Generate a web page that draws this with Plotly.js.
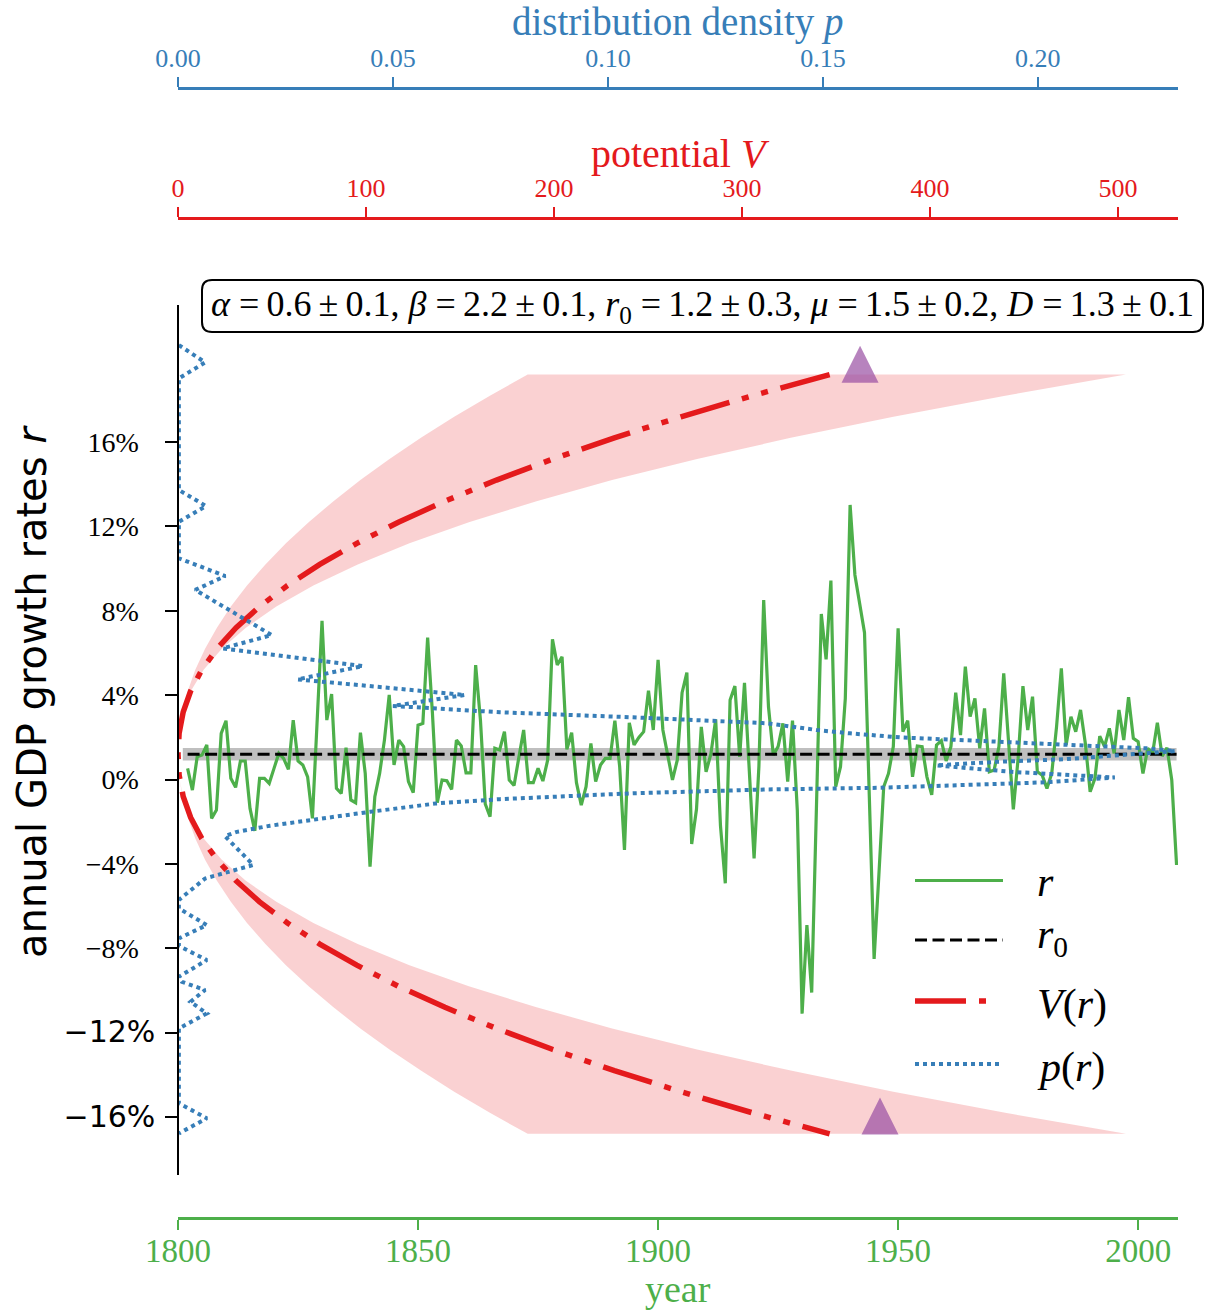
<!DOCTYPE html>
<html><head><meta charset="utf-8">
<script src="https://cdn.plot.ly/plotly-3.0.1.min.js"></script>
<style>html,body{margin:0;padding:0;background:#fff}</style>
</head><body><div id="chart" style="width:1205px;height:1313px"></div>
<script>
// ---------------- data ----------------
const firstYear = 1802;
const growth = [
  0.53, -0.50, 1.08, 1.16, 1.64, -1.84, -1.45, 2.19,
  2.79, 0.06, -0.37, 0.88, 0.88, -1.37, -2.43, 0.06, 0.06, -0.18,
  0.53, 1.24, 1.00, 0.48, 2.82, 0.88, 0.69, 0.13, -1.84, 3.00,
  7.53, 2.82, 4.05, -0.42, -0.66, 1.51, -0.97, -1.10, 2.22, 0.29,
  -4.13, -0.81, 0.29, 1.87, 4.01, 0.69, 1.87, 1.56, -0.10, -0.62,
  2.58, 2.66, 6.73, 3.14, -1.10, -0.02, -0.06, -0.47, 1.87, 1.59,
  0.32, 0.32, 5.43, 2.82, -1.16, -1.76, 1.48, 1.40, 2.27, -0.02,
  -0.28, 1.05, 2.35, -0.15, -0.15, 0.53, -0.07, 0.92, 6.65, 5.43,
  5.82, 1.43, 2.22, -0.15, -1.21, -0.34, 1.71, -0.10, 0.69, 1.00,
  1.00, 2.79, 0.61, -3.34, 2.69, 1.64, 2.00, 2.27, 4.21, 2.35,
  5.67, 2.35, 1.08, -0.02, 0.92, 4.12, 5.07, -3.06, -1.41, 2.50,
  0.37, 1.21, 2.85, -2.20, -4.92, 3.77, 4.43, 1.08, 4.59, 0.69,
  -3.74, 0.61, 8.51, 3.45, 1.16, 1.56, 2.66, -0.10, 2.79, -1.45,
  -11.10, -6.90, -10.10, -1.20, 7.85, 5.70, 9.43, -0.34, 0.61, 3.85,
  13.02, 9.70, 8.35, 6.96, -0.80, -8.51, -4.50, -0.34, 0.29, 1.56,
  7.17, 2.27, 2.79, 0.13, 1.59, 1.56, 0.13, -0.73, 1.64, 1.84,
  0.88, 1.56, 4.12, 2.11, 5.35, 2.98, 3.85, 1.48, 3.37, 0.37,
  0.45, 1.56, 5.03, 1.80, -1.41, 1.00, 4.43, 2.35, 3.93, 0.37,
  0.21, -0.42, 0.29, 2.50, 5.27, 1.64, 2.98, 2.27, 3.30, 1.71,
  -0.58, 0.06, 2.06, 1.56, 2.43, 1.24, 3.30, 1.87, 3.90, 1.95,
  1.79, 0.29, 1.48, 1.24, 2.69, 1.11, 1.51, -0.02, -4.05
];
const years = growth.map((_, i) => firstYear + i);

const r0 = 1.2, r0Err = 0.3;
const bandYears = [1801, 2008];

// potential V(r) and its uncertainty band
const rCurve = [-16.8, -15.8, -14.8, -13.8, -12.8, -11.8, -10.8, -9.8, -8.8, -7.8, -6.8, -5.8, -4.8, -3.8, -2.8, -1.8, -0.8, 0.2,
  1.2, 2.2, 3.2, 4.2, 5.2, 6.2, 7.2, 8.2, 9.2, 10.2, 11.2, 12.2, 13.2, 14.2, 15.2, 16.2, 17.2, 18.2, 19.2];
const potential = [346.6, 305.5, 267.5, 232.1, 199.4, 169.4, 142.0, 117.2, 95.1, 75.4, 58.2, 43.39, 30.91, 20.69, 12.67, 6.73, 2.76, 0.6,
  0, 0.6, 2.76, 6.73, 12.67, 20.69, 30.91, 43.39, 58.2, 75.4, 95.1, 117.2, 142.0, 169.4, 199.4, 232.1, 267.5, 305.5, 346.6];
const potLow = [186.0, 165.9, 146.9, 129.2, 112.5, 97.0, 82.7, 69.5, 57.4, 46.5, 36.7, 28.1, 20.7, 14.4, 9.2, 5.2, 2.3, 0.57,
  0, 0.57, 2.3, 5.2, 9.2, 14.4, 20.7, 28.1, 36.7, 46.5, 57.4, 69.5, 82.7, 97.0, 112.5, 129.2, 146.9, 165.9, 186.0];
const potHigh = [504.2, 440.0, 380.5, 325.9, 276.1, 230.9, 190.7, 154.7, 123.1, 95.6, 72.0, 52.3, 36.1, 23.3, 13.65, 6.85, 2.59, 0.49,
  0, 0.49, 2.59, 6.85, 13.65, 23.3, 36.1, 52.3, 72.0, 95.6, 123.1, 154.7, 190.7, 230.9, 276.1, 325.9, 380.5, 440.0, 504.2];
const markerV = [362.8, 373.4];
const markerR = [19.69, -15.95];

// distribution density p(r)
const densR = [20.60, 19.78, 19.02, 13.73, 12.97, 12.22, 10.49, 9.65, 8.99, 6.85, 6.22, 5.38, 4.75, 4.01, 3.49, 3.19, 2.95, 2.67,
  2.35, 2.19, 2.00, 1.87, 1.68, 1.48, 1.35, 0.96, 0.84, 0.67, 0.36, 0.10, -0.13, -0.39, -0.47, -0.65, -0.93, -1.13, -1.53, -1.84,
  -2.19, -2.48, -2.68, -4.05, -4.69, -5.71, -6.11, -6.90, -7.53, -7.89, -8.56, -9.35, -9.59, -9.98, -10.54, -11.09, -11.80,
  -15.35, -16.06, -16.78];
const densP = [0.0002, 0.0063, 0.0002, 0.0002, 0.0065, 0.0002, 0.0002, 0.0110, 0.0040, 0.0218, 0.0104, 0.0430, 0.0278, 0.0667,
  0.0500, 0.0749, 0.1058, 0.1369, 0.1485, 0.1563, 0.1679, 0.1826, 0.2058, 0.2253, 0.2319, 0.2059, 0.1904, 0.1764, 0.1943, 0.2179,
  0.2020, 0.1633, 0.1369, 0.1059, 0.0749, 0.0602, 0.0447, 0.0330, 0.0214, 0.0137, 0.0109, 0.0175, 0.0063, 0.0002, 0.0002, 0.0067,
  0.0002, 0.0002, 0.0067, 0.0002, 0.0009, 0.0063, 0.0029, 0.0067, 0.0002, 0.0002, 0.0067, 0.0002];

// ticks
const yTickVals = [-16, -12, -8, -4, 0, 4, 8, 12, 16];
const yTickLabels = ['\u221216%', '\u221212%', '\u22128%', '\u22124%', '0%', '4%', '8%', '12%', '16%'];
const yearTicks = [1800, 1850, 1900, 1950, 2000];
const vTicks = [0, 100, 200, 300, 400, 500];
const pTicks = [0, 0.05, 0.10, 0.15, 0.20];

// ---------------- presentation ----------------
const GREEN = '#4daf4a', RED = '#e41a1c', BLUE = '#377eb8', PURPLE = '#984ea3';
const SERIF = 'Liberation Serif, DejaVu Serif, serif';
const SANS = 'DejaVu Sans, sans-serif';
const W = 1205, H = 1313, ML = 178, MR = 27, MT = 88, MB = 95;
const PW = W - ML - MR, PH = H - MT - MB;
const fx = px => (px - ML) / PW;
const fy = py => (H - MB - py) / PH;
const sansLabels = new Set(['\u221216%', '\u221212%']);
const yTickText = yTickLabels.map(t => sansLabels.has(t)
  ? '<span style="font-family:DejaVu Sans;font-size:30px">' + t + '</span>'
  : t + '<span style="font-size:22px">\u00a0\u00a0\u00a0</span>');

const rev = a => a.slice().reverse();

const traces = [
  { x: [bandYears[0], bandYears[1], bandYears[1], bandYears[0]], y: [r0 - r0Err, r0 - r0Err, r0 + r0Err, r0 + r0Err],
    xaxis: 'x', yaxis: 'y', mode: 'lines', fill: 'toself', fillcolor: 'rgba(128,128,128,0.5)', line: { width: 0 }, hoverinfo: 'skip' },
  { x: years, y: growth, xaxis: 'x', yaxis: 'y', mode: 'lines', line: { color: GREEN, width: 3.2 } },
  { x: [years[0], years[years.length - 1]], y: [r0, r0], xaxis: 'x', yaxis: 'y', mode: 'lines',
    line: { color: '#000', width: 3.2, dash: '12px,5.5px' } },
  { x: potLow.concat(rev(potHigh)), y: rCurve.concat(rev(rCurve)), xaxis: 'x2', yaxis: 'y', mode: 'lines', fill: 'toself',
    fillcolor: 'rgba(228,26,28,0.2)', line: { width: 0 }, hoverinfo: 'skip' },
  { x: rev(potential), y: rev(rCurve), xaxis: 'x2', yaxis: 'y', mode: 'lines',
    line: { color: RED, width: 5.5, dash: '51px,13px,7px,13px,7px,13px' } },
  { x: markerV, y: markerR, xaxis: 'x2', yaxis: 'y', mode: 'markers',
    marker: { symbol: 'arrow-down', angle: 180, standoff: 18.5, size: 37, color: PURPLE, opacity: 0.7, line: { width: 0 } } },
  { x: densP, y: densR, xaxis: 'x3', yaxis: 'y', mode: 'lines', line: { color: BLUE, width: 4, dash: '4px,4px' } }
];

const axisCommon = { showgrid: false, zeroline: false, showline: true, ticks: 'outside', tickwidth: 2, ticklen: 10, fixedrange: true };

const ann = (px, py, text, size, color, extra) => Object.assign({ xref: 'paper', yref: 'paper', x: fx(px), y: fy(py), text: text,
  showarrow: false, xanchor: 'center', yanchor: 'middle', font: { family: SERIF, size: size, color: color } }, extra || {});

const annotations = [
  ann(678, 22, 'distribution density <i>p</i>', 39, BLUE),
  ann(680, 154, 'potential <i>V</i>', 40, RED),
  ann(678, 1289, 'year', 38, GREEN),
  Object.assign(ann(32, 692, 'annual GDP growth rates <i>r</i>', 40, '#000', { textangle: -90 }), { font: { family: SANS, size: 40, color: '#000' } }),
  ann(702, 306, '<i>\u03b1</i> =\u20090.6\u2009\u00b1\u20090.1, <i>\u03b2</i> =\u20092.2\u2009\u00b1\u20090.1, <i>r</i><sub>0</sub> =\u20091.2\u2009\u00b1\u20090.3, <i>\u03bc</i> =\u20091.5\u2009\u00b1\u20090.2, <i>D</i> =\u20091.3\u2009\u00b1\u20090.1', 36, '#000'),
  ann(1035, 882, '<i>r</i>', 42, '#000', { xanchor: 'left' }),
  ann(1035, 937, '<i>r</i><sub>0</sub>', 42, '#000', { xanchor: 'left' }),
  ann(1035, 1004, '<i>V</i>(<i>r</i>)', 42, '#000', { xanchor: 'left' }),
  ann(1035, 1067, '<i>p</i>(<i>r</i>)', 42, '#000', { xanchor: 'left' })
];

// rounded parameter box
const bx0 = fx(202), bx1 = fx(1203), by0 = fy(332), by1 = fy(280), rx = 10 / PW, ry = 10 / PH;
const boxPath = `M${bx0 + rx},${by1} L${bx1 - rx},${by1} Q${bx1},${by1} ${bx1},${by1 - ry} L${bx1},${by0 + ry} Q${bx1},${by0} ${bx1 - rx},${by0} ` +
  `L${bx0 + rx},${by0} Q${bx0},${by0} ${bx0},${by0 + ry} L${bx0},${by1 - ry} Q${bx0},${by1} ${bx0 + rx},${by1} Z`;

const legLine = (py, x1, color, width, dash) => ({ type: 'line', xref: 'paper', yref: 'paper', x0: fx(915), x1: fx(x1), y0: fy(py), y1: fy(py),
  line: { color: color, width: width, dash: dash } });

const shapes = [
  { type: 'path', xref: 'paper', yref: 'paper', path: boxPath, line: { color: '#000', width: 2 }, fillcolor: 'rgba(255,255,255,0.8)' },
  legLine(880.5, 1003, GREEN, 3.2, 'solid'),
  legLine(940, 1003, '#000', 3.2, '12px,5.5px'),
  legLine(1001, 995, RED, 5.5, '51px,13px,7px,13px,7px,13px'),
  legLine(1064, 1003, BLUE, 4, '4px,4px')
];

const layout = {
  width: W, height: H, margin: { l: ML, r: MR, t: MT, b: MB, pad: 0 },
  paper_bgcolor: '#fff', plot_bgcolor: 'rgba(0,0,0,0)', showlegend: false,
  xaxis: Object.assign({}, axisCommon, { range: [1800, 2008.3], domain: [0, 1], anchor: 'free', position: 0,
    linecolor: GREEN, linewidth: 2.5, tickcolor: GREEN, tickvals: yearTicks, ticktext: yearTicks.map(String),
    tickfont: { family: SERIF, size: 33, color: GREEN }, ticklabelstandoff: -7 }),
  yaxis: Object.assign({}, axisCommon, { range: [-18.75, 22.5], domain: [fy(1175), fy(305)], anchor: 'free', position: 0,
    linecolor: '#000', linewidth: 2, tickcolor: '#000', ticklen: 12, tickvals: yTickVals, ticktext: yTickText,
    tickfont: { family: SERIF, size: 28, color: '#000' }, ticklabelstandoff: 4 }),
  xaxis2: Object.assign({}, axisCommon, { overlaying: 'x', side: 'top', anchor: 'free', position: fy(218), range: [0, 531.9],
    linecolor: RED, linewidth: 2.5, tickcolor: RED, tickvals: vTicks, ticktext: vTicks.map(String),
    tickfont: { family: SERIF, size: 26, color: RED } }),
  xaxis3: Object.assign({}, axisCommon, { overlaying: 'x', side: 'top', anchor: 'free', position: 1, range: [0, 0.2326],
    linecolor: BLUE, linewidth: 2.5, tickcolor: BLUE, tickvals: pTicks, ticktext: pTicks.map(v => v.toFixed(2)),
    tickfont: { family: SERIF, size: 26, color: BLUE } }),
  annotations: annotations,
  shapes: shapes
};

Plotly.newPlot('chart', traces, layout, { staticPlot: true, displayModeBar: false });
</script></body></html>
